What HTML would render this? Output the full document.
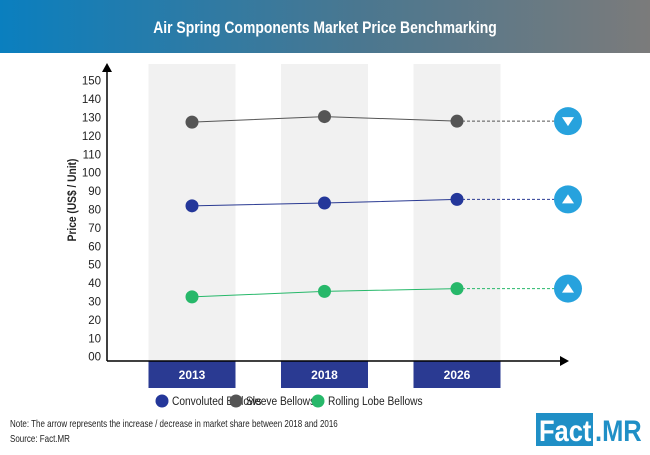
<!DOCTYPE html>
<html><head><meta charset="utf-8"><style>
body{margin:0;width:650px;height:450px;overflow:hidden;background:#fff;font-family:"Liberation Sans",sans-serif}
</style></head><body>
<svg width="650" height="450" viewBox="0 0 650 450" xmlns="http://www.w3.org/2000/svg">
<defs><linearGradient id="hg" x1="0" x2="1"><stop offset="0" stop-color="#0a7fbf"/><stop offset="0.55" stop-color="#4a7790"/><stop offset="1" stop-color="#7b7b7b"/></linearGradient></defs>
<rect x="0" y="0" width="650" height="53" fill="url(#hg)"/>
<text x="325" y="33" text-anchor="middle" fill="#fff" font-size="17" font-weight="bold" transform="translate(325,0) scale(0.82,1) translate(-325,0)">Air Spring Components Market Price Benchmarking</text>
<g id="cols"></g>
<g id="axes"></g>
<g id="series"></g>
<text transform="translate(76,200) rotate(-90) scale(0.85,1)" text-anchor="middle" font-size="12" font-weight="bold" fill="#222">Price (US$ / Unit)</text>
<g font-size="12" fill="#222">
<circle cx="162" cy="401" r="6.5" fill="#24379a"/>
<text x="172" y="405" transform="translate(172,0) scale(0.85,1) translate(-172,0)">Convoluted Bellows</text>
<circle cx="236" cy="401" r="6.5" fill="#555"/>
<text x="246" y="405" transform="translate(246,0) scale(0.85,1) translate(-246,0)">Sleeve Bellows</text>
<circle cx="318" cy="401" r="6.5" fill="#27b86a"/>
<text x="328" y="405" transform="translate(328,0) scale(0.85,1) translate(-328,0)">Rolling Lobe Bellows</text>
</g>
<text x="10" y="427" font-size="10" fill="#222" transform="translate(10,0) scale(0.8,1) translate(-10,0)">Note: The arrow represents the increase / decrease in market share between 2018 and 2016</text>
<text x="10" y="442" font-size="10" fill="#222" transform="translate(10,0) scale(0.8,1) translate(-10,0)">Source: Fact.MR</text>
<rect x="536" y="413" width="57" height="33" fill="#1f8fc6"/>
<text x="539" y="441" font-size="30" font-weight="bold" fill="#fff" transform="translate(539,0) scale(0.85,1) translate(-539,0)">Fact</text>
<text x="595" y="441" font-size="30" font-weight="bold" fill="#1f8fc6" transform="translate(595,0) scale(0.85,1) translate(-595,0)">.MR</text>
</svg>
<script>
const years=["2013","2018","2026"];
const yTicks=["00","10","20","30","40","50","60","70","80","90","100","110","120","130","140","150"];
const convoluted=[82,83.5,85.5];
const sleeve=[127.5,130.5,128];
const rolling=[32.5,35.5,37];
const trends=["up","down","up"]; // convoluted, sleeve, rolling
const NS="http://www.w3.org/2000/svg";
function y(v){return 356.7-v*1.84;}
function x(i){return 192+i*132.5;}
function mk(tag,attrs,parent){const e=document.createElementNS(NS,tag);for(const k in attrs)e.setAttribute(k,attrs[k]);parent.appendChild(e);return e;}
const cols=document.getElementById('cols'),axes=document.getElementById('axes'),ser=document.getElementById('series');
years.forEach((yr,i)=>{
 const r=mk('rect',{x:x(i)-43.5,y:64,width:87,height:297,fill:'#f1f1f1'},cols);
 
 
 const b=mk('rect',{x:x(i)-43.5,y:361,width:87,height:27,fill:'#2a3a92'},cols);
 
 
 const t=mk('text',{x:x(i),y:379,'text-anchor':'middle','font-size':12,'font-weight':'bold',fill:'#fff'},cols);
 t.textContent=yr;
 
 
});
const ya=mk('line',{x1:107,y1:70,x2:107,y2:361,stroke:'#000','stroke-width':1.5},axes);


const yar=mk('path',{d:'M102,72 L107,63 L112,72 Z',fill:'#000'},axes);


const xa=mk('line',{x1:107,y1:361,x2:562,y2:361,stroke:'#000','stroke-width':1.5},axes);


const xar=mk('path',{d:'M560,356 L569,361 L560,366 Z',fill:'#000'},axes);


yTicks.forEach((l,i)=>{
 const t=mk('text',{x:101,y:y(i*10)+4,'text-anchor':'end','font-size':11.5,fill:'#222'},axes);
 t.textContent=l;
 
 
});
const series=[["convoluted",convoluted,"#24379a","#2a3a92"],["sleeve",sleeve,"#555","#555"],["rolling",rolling,"#27b86a","#27b86a"]];
series.forEach(([name,vals,col,lc],si)=>{
 const pts=vals.map((v,i)=>x(i)+','+y(v)).join(' ');
 const pl=mk('polyline',{points:pts,fill:'none',stroke:lc,'stroke-width':1},ser);
 
 
 const last=vals[vals.length-1];
 const dl=mk('line',{x1:x(2),y1:y(last),x2:554,y2:y(last),stroke:lc,'stroke-width':1,'stroke-dasharray':'3,2'},ser);
 
 
 vals.forEach((v,i)=>{
  const c=mk('circle',{cx:x(i),cy:y(v),r:6.5,fill:col},ser);
  
  
 });
 const cy=y(last);
 const ic=mk('circle',{cx:568,cy:cy,r:14,fill:'#27a2dd'},ser);
 
 
 const tr=trends[si]==='up'?`M562,${cy+4} L574,${cy+4} L568,${cy-5} Z`:`M562,${cy-4} L574,${cy-4} L568,${cy+5} Z`;
 const ar=mk('path',{d:tr,fill:'#fff'},ser);
 
 
});
</script>
</body></html>
